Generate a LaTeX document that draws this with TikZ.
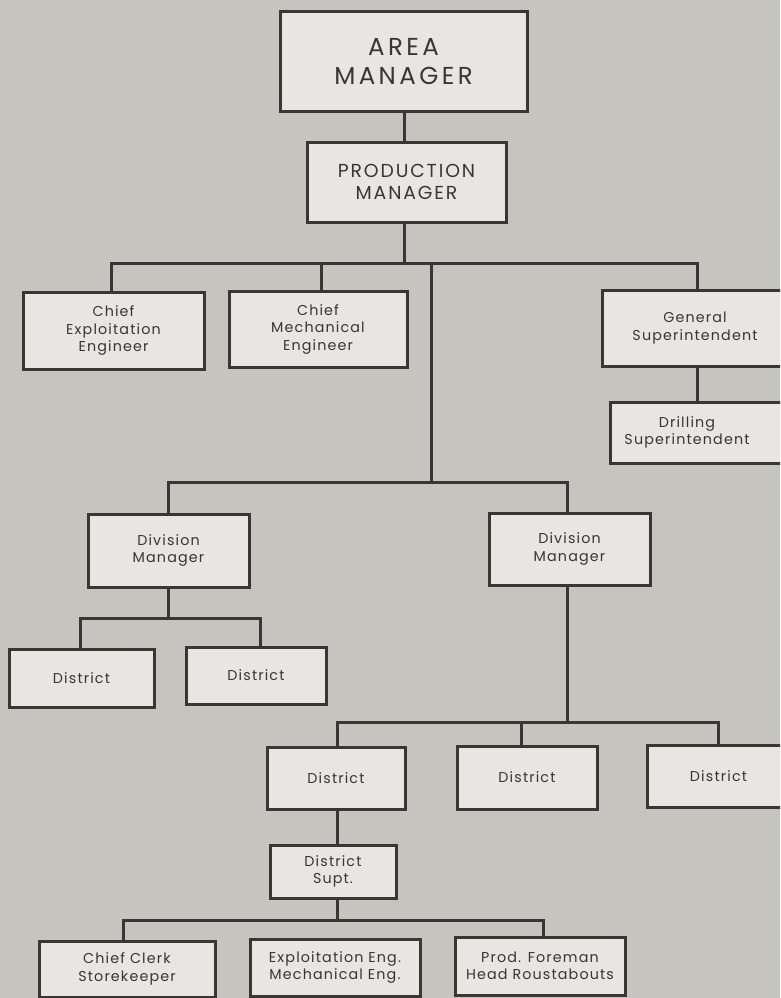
\documentclass[tikz,border=0pt]{standalone}
\usepackage{fontspec}
\setmainfont{Poppins}[LetterSpace=8]
\definecolor{bg}{HTML}{C6C4BF}
\definecolor{boxfill}{HTML}{E8E5E2}
\definecolor{ink}{HTML}{3B3636}
\newcommand{\smalltxt}{\fontsize{14.3}{17.5}\selectfont}
\newcommand{\bigcaps}{\addfontfeatures{LetterSpace=14}\fontsize{24.5}{29}\selectfont}
\newcommand{\midcaps}{\addfontfeatures{LetterSpace=10}\fontsize{18.8}{22}\selectfont}
\tikzset{
  orgbox/.style={draw=ink, line width=3pt, fill=boxfill, align=center, inner sep=0pt,
    text=ink, font=\smalltxt},
  conn/.style={draw=ink, line width=3pt},
  lbl/.style={align=center, inner sep=0pt, text=ink, font=\smalltxt}
}
\begin{document}
\begin{tikzpicture}[x=1pt,y=-1pt]
\fill[bg] (0,0) rectangle (780,998);
\useasboundingbox (0,0) rectangle (780,998);
\clip (0,0) rectangle (780,998);

% coordinates for junctions
\coordinate (j1) at (404,263);
\coordinate (j2) at (431,263);
\coordinate (j3) at (431,482);
\coordinate (j4) at (168.5,618);
\coordinate (j5) at (569.5,722);
\coordinate (j6) at (337,920);

% connectors (drawn first, under boxes)
\draw[conn] (404,111) -- (404,142);
\draw[conn] (404,222) -- (j1);
\draw[conn] (111,292) |- (j1);
\draw[conn] (697,290) |- (j1);
\draw[conn] (321,291) -- (321,263);
\draw[conn] (j2) -- (j3);
\draw[conn] (697,366) -- (697,402);
\draw[conn] (168.5,514) |- (j3);
\draw[conn] (567,513) |- (j3);
\draw[conn] (168.5,587) -- (j4);
\draw[conn] (80,649) |- (j4);
\draw[conn] (260,647) |- (j4);
\draw[conn] (567,585) -- (567,722);
\draw[conn] (337,747) |- (j5);
\draw[conn] (718,745) |- (j5);
\draw[conn] (521,746) -- (521,722);
\draw[conn] (337,809) -- (337,845);
\draw[conn] (337,898) -- (j6);
\draw[conn] (123,941) |- (j6);
\draw[conn] (543,937) |- (j6);

% boxes
\node[orgbox, minimum width=247, minimum height=99, font=\bigcaps] (am) at (403.5,61.5) {AREA\\MANAGER};
\node[orgbox, minimum width=199, minimum height=80, font=\midcaps] (pm) at (406.5,182) {PRODUCTION\\MANAGER};
\node[orgbox, minimum width=181, minimum height=77] (ce) at (113.5,330.5) {Chief\\Exploitation\\Engineer};
\node[orgbox, minimum width=178, minimum height=76] (cm) at (318,329) {Chief\\Mechanical\\Engineer};
\node[orgbox, minimum width=186, minimum height=76] (gs) at (695,328) {General\\Superintendent};
\node[orgbox, minimum width=180, minimum height=61] (ds) at (700,432.5) {};
\node[lbl] (dst) at (687,432.5) {Drilling\\Superintendent};
\node[orgbox, minimum width=161, minimum height=73] (dl) at (168.5,550.5) {Division\\Manager};
\node[orgbox, minimum width=161, minimum height=72] (dr) at (569.5,549) {Division\\Manager};
\node[orgbox, minimum width=145, minimum height=58] (d1) at (81.5,678) {District};
\node[orgbox, minimum width=140, minimum height=57] (d2) at (256,675.5) {District};
\node[orgbox, minimum width=138, minimum height=62] (d3) at (336,778) {District};
\node[orgbox, minimum width=140, minimum height=63] (d4) at (527,777.5) {District};
\node[orgbox, minimum width=143, minimum height=62] (d5) at (718.5,776) {District};
\node[orgbox, minimum width=126, minimum height=53] (sup) at (333,871.5) {District\\Supt.};
\node[orgbox, minimum width=176, minimum height=56] (cc) at (127,969) {Chief Clerk\\Storekeeper};
\node[orgbox, minimum width=170, minimum height=57] (ee) at (335,967.5) {Exploitation Eng.\\Mechanical Eng.};
\node[orgbox, minimum width=170, minimum height=58] (pf) at (540,966) {Prod. Foreman\\Head Roustabouts};
\end{tikzpicture}
\end{document}
